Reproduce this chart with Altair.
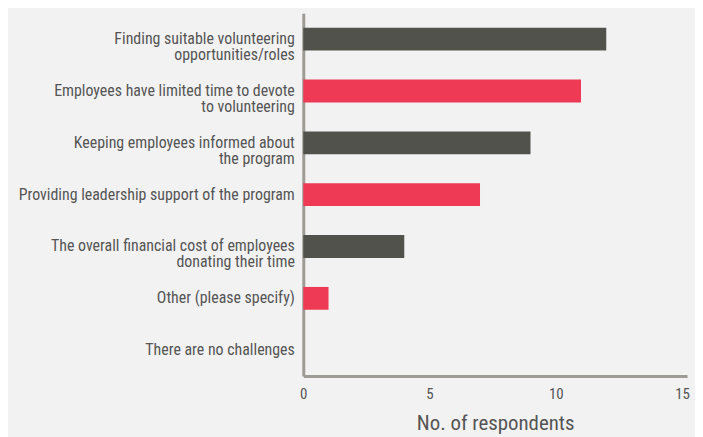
import altair as alt
import pandas as pd

categories = [
    "Finding suitable volunteering\nopportunities/roles",
    "Employees have limited time to devote\nto volunteering",
    "Keeping employees informed about\nthe program",
    "Providing leadership support of the program",
    "The overall financial cost of employees\ndonating their time",
    "Other (please specify)",
    "There are no challenges",
]
values = [12, 11, 9, 7, 4, 1, 0]
groups = ["a", "b", "a", "b", "a", "b", "a"]
tick_values = [0, 5, 10, 15]

df = pd.DataFrame({"cat": categories, "val": values, "grp": groups})

FONT = "Liberation Sans Narrow, Roboto Condensed, DejaVu Sans Condensed, sans-serif"

chart = alt.Chart(df).mark_bar().encode(
    y=alt.Y("cat:N", sort=categories, title=None,
            scale=alt.Scale(paddingInner=0.56, paddingOuter=0.28),
            axis=alt.Axis(labelExpr="split(datum.label, '\\n')", labelFontSize=16,
                          labelLineHeight=16, labelColor="#555555", labelFont=FONT,
                          ticks=False, labelPadding=9, domainColor="#9e9b97",
                          domainWidth=3, labelLimit=400)),
    x=alt.X("val:Q", title="No. of respondents",
            scale=alt.Scale(domain=[0, 15.2], nice=False),
            axis=alt.Axis(values=tick_values, grid=False, ticks=False, labelFontSize=15,
                          labelColor="#555555", labelFont=FONT, labelPadding=11,
                          domainColor="#9e9b97", domainWidth=3, titleFont=FONT,
                          titleFontSize=21, titleFontWeight="normal", titleColor="#555555",
                          titlePadding=11, labelFlush=False)),
    color=alt.Color("grp:N", scale=alt.Scale(domain=["a", "b"], range=["#52524d", "#ee3a55"]),
                    legend=None),
).properties(
    width=386,
    height=365,
    background="#f2f2f2",
    padding={"left": 297, "top": 4, "right": 8, "bottom": 60},
    autosize=alt.AutoSizeParams(type="none"),
).configure_view(stroke=None)

chart.save("out.html", embed_options={"renderer": "svg", "actions": False})
